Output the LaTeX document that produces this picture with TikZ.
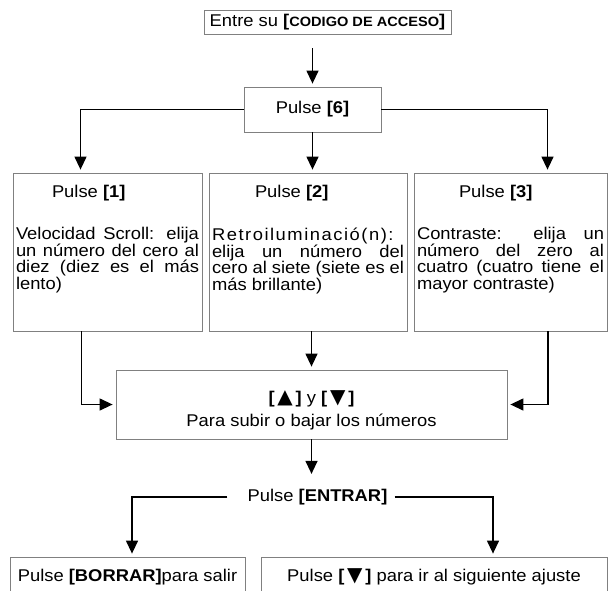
\documentclass[tikz,border=0pt]{standalone}
\usepackage{fontspec}
\setmainfont{Liberation Sans}[FakeStretch=1.08]
\newfontfamily\symfont{DejaVu Sans}
\usetikzlibrary{arrows.meta}
\newcommand{\optbox}[4]{\parbox[c][158pt][t]{#1}{\rule{0pt}{24pt}\hspace*{#2}Pulse \textbf{[#3]}\par\vspace{26pt}#4}}
\newcommand{\up}{{\symfont\fontsize{20}{15}\selectfont ▲}}
\newcommand{\down}{{\symfont\fontsize{20}{15}\selectfont ▼}}
\begin{document}
\begin{tikzpicture}[x=1pt,y=-1pt,font=\fontsize{17}{15.5}\selectfont]
\tikzstyle{caja}=[draw=gray,line width=0.8pt,inner xsep=3pt,inner ysep=0pt];
\tikzstyle{go}=[-{Triangle[length=13pt,width=12pt]},line width=1.3pt,shorten >=3pt];
\useasboundingbox (0,0) rectangle (608,590);
\clip (0,0) rectangle (608,590);

\node [caja,minimum width=247pt,minimum height=24pt] (acc) at (327.5,22) {Entre su \textbf{[}{\fontsize{13.5}{13.5}\selectfont\bfseries CODIGO DE ACCESO}\textbf{]}};
\node [caja,minimum width=137pt,minimum height=45pt] (p6) at (312.5,109.5) {Pulse \textbf{[6]}};
\draw [go,shorten <=14pt] (p6.north |- acc.south) -- (p6.north);

\node [caja] (p1) at (107.5,252) {\optbox{183pt}{36pt}{1}{Velocidad Scroll: elija\linebreak un número del cero al\linebreak diez (diez es el más\linebreak lento)}};
\node [caja] (p2) at (308,252) {\optbox{192pt}{43pt}{2}{{\addfontfeature{LetterSpace=9}Retroiluminació(n):}\linebreak elija un número del\linebreak cero al siete (siete es el\linebreak más brillante)}};
\node [caja] (p3) at (510.5,252) {\optbox{187pt}{42pt}{3}{Contraste: elija un\linebreak número del zero al\linebreak cuatro (cuatro tiene el\linebreak mayor contraste)}};
\draw [go] (p6.west) -| ([xshift=-27pt]p1.north);
\draw [go] (p6.south) -- (p6.south |- p2.north);
\draw [go] (p6.east) -| ([xshift=37pt]p3.north);

\node [caja] (arr) at (311.5,404.5) {\parbox[c][69pt][t]{385pt}{\centering\rule{0pt}{33pt}\textbf{[\,\up\,]} y \textbf{[\,\down\,]}\\[6pt]Para subir o bajar los números}};
\draw [go] ([xshift=-26pt]p1.south) |- (arr.west);
\draw [go] (arr.north |- p2.south) -- (arr.north);
\draw [go] ([xshift=37.5pt]p3.south) |- (arr.east);

\node [inner xsep=0pt,inner ysep=12pt] (ent) at (317.5,497) {Pulse \textbf{[ENTRAR]}};
\draw [go] (arr.south) -- (arr.south |- ent.north);

\node [caja,minimum width=235pt,minimum height=40pt] (bor) at (127.5,577) {Pulse \textbf{[BORRAR]}para salir};
\node [caja,minimum width=346pt,minimum height=40pt] (sig) at (434,577) {Pulse \textbf{[\,\down\,]} para ir al siguiente ajuste};
\draw [go] ([xshift=-20pt]ent.west) -| ([xshift=4.5pt]bor.north);
\draw [go] ([xshift=7pt]ent.east) -| ([xshift=59pt]sig.north);
\end{tikzpicture}
\end{document}
